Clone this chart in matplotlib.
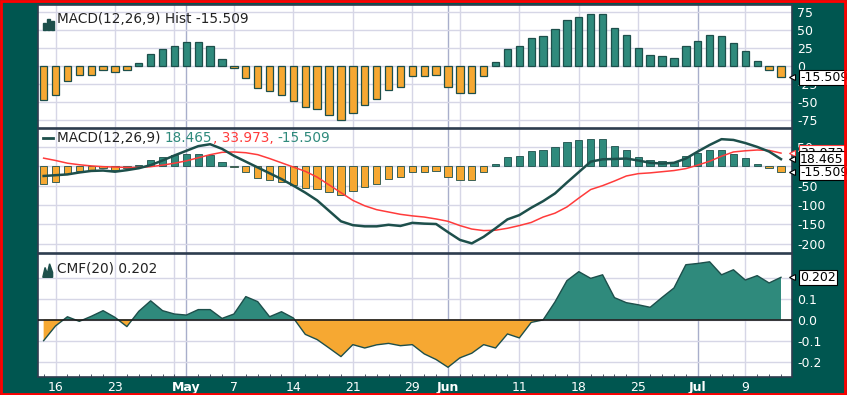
import numpy as np
import matplotlib
matplotlib.use("Agg")
import matplotlib.pyplot as plt
from matplotlib.patches import Rectangle

plt.rcParams['axes.unicode_minus'] = False
plt.rcParams['font.family'] = 'DejaVu Sans'

# trading days Apr 13 .. Jul 12 (index 0..62)
hist = [-46.7, -39.8, -20.6, -12.4, -12.4, -5.5, -8.7, -5.5, 3.7, 16.0,
        23.4, 27.9, 32.5, 32.5, 27.9, 10.0, -2.3, -16.0, -29.8, -34.3,
        -39.8, -48.0, -55.9, -59.0, -67.3, -74.2, -64.1, -53.6, -45.3, -33.0,
        -28.4, -14.2, -14.2, -12.4, -28.4, -36.6, -36.6, -14.2, 5.0, 23.4,
        27.5, 38.9, 41.2, 50.8, 63.2, 66.9, 71.4, 71.4, 52.6, 42.6,
        25.1, 15.1, 13.7, 11.4, 27.5, 34.3, 43.0, 41.2, 31.2, 20.6,
        6.9, -5.5, -15.509]

macd = [-25, -23, -21, -16, -12, -11, -14, -10, -5, 3,
        15, 28, 40, 52, 57, 45, 27, 12, -3, -18,
        -33, -50, -68, -88, -115, -142, -152, -155, -155, -151,
        -154, -146, -148, -149, -170, -190, -199, -182, -160, -137,
        -126, -107, -90, -70, -42, -15, 12, 18, 19, 20,
        15, 9, 7, 9, 20, 38, 55, 70, 68, 60,
        50, 38, 18.465]

signal = [21, 15, 8, 4, 1, -1, -2, -3, -3, -1,
          3, 8, 14, 22, 30, 36, 37, 35, 30, 20,
          9, -2, -13, -28, -48, -68, -88, -102, -112, -118,
          -124, -128, -131, -136, -142, -153, -162, -166, -165, -160,
          -153, -145, -131, -121, -105, -82, -60, -50, -38, -25,
          -19, -17, -14, -11, -6, 3, 13, 26, 37, 40,
          42, 41, 33.973]

cmf = [-0.10, -0.03, 0.014, -0.008, 0.016, 0.043, 0.011, -0.033, 0.04, 0.09,
       0.043, 0.027, 0.022, 0.048, 0.048, 0.006, 0.027, 0.11, 0.086, 0.014,
       0.038, 0.008, -0.07, -0.095, -0.135, -0.176, -0.119, -0.135, -0.12, -0.113,
       -0.124, -0.119, -0.163, -0.19, -0.227, -0.182, -0.16, -0.119, -0.135, -0.068,
       -0.087, -0.013, -0.001, 0.085, 0.186, 0.229, 0.197, 0.214, 0.105, 0.081,
       0.071, 0.059, 0.106, 0.151, 0.262, 0.268, 0.276, 0.214, 0.238, 0.189,
       0.21, 0.175, 0.202]

tick_pos = [1, 6, 12, 16, 21, 26, 31, 34, 40, 45, 50, 55, 59]
tick_lab = ['16', '23', 'May', '7', '14', '21', '29', 'Jun', '11', '18', '25', 'Jul', '9']
week_lines = [1, 6, 11, 16, 21, 26, 31, 35, 40, 45, 50, 59]
month_lines = [12, 34, 55]

BG = '#005650'
TEAL = '#2f8a7c'
DARK = '#1d4f4b'
ORANGE = '#f6a832'
RED = '#ff3b3b'
GRID = '#d6d6e6'
MGRID = '#a8aecb'
SPINE = '#2f3d4f'
FS = 9.8

x = np.arange(len(hist))
hist = np.array(hist)
cmf = np.array(cmf)

fig = plt.figure(figsize=(8.47, 3.95), dpi=100, facecolor=BG)
L, W = 0.0452, 0.8895
ax1 = fig.add_axes([L, 0.6767, W, 0.3106])
ax2 = fig.add_axes([L, 0.3603, W, 0.3119])
ax3 = fig.add_axes([L, 0.0468, W, 0.3101])


def style(ax, ylim, yt, ylab):
    ax.set_facecolor('white')
    ax.set_xlim(-0.45, 62.9)
    ax.set_ylim(*ylim)
    for v in week_lines:
        ax.axvline(v, color=GRID, lw=1, zorder=0)
    for v in month_lines:
        ax.axvline(v, color=MGRID, lw=1, zorder=0)
    for v in yt:
        ax.axhline(v, color=GRID, lw=1, zorder=0)
    ax.yaxis.tick_right()
    ax.set_yticks(yt)
    ax.set_yticklabels(ylab)
    ax.tick_params(axis='y', length=0, pad=4, labelcolor='white', labelsize=9)
    ax.set_xticks(tick_pos)
    ax.set_xticks(x, minor=True)
    ax.tick_params(axis='x', which='both', length=0, labelbottom=False)
    for s in ax.spines.values():
        s.set_color(SPINE)
        s.set_linewidth(1.2)


def tag(ax, y, txt, ec='black', fc='white'):
    ax.annotate(txt, xy=(1.0, y), xycoords=('axes fraction', 'data'),
                xytext=(6, 0), textcoords='offset points', va='center', ha='left',
                fontsize=9, color='black', annotation_clip=False, zorder=6,
                bbox=dict(boxstyle='square,pad=0.1', fc=fc, ec=ec, lw=0.8))
    ax.plot([1.0], [y], marker='<', ms=5, mfc='white', mec=ec, mew=0.8,
            transform=ax.get_yaxis_transform(), clip_on=False, zorder=5)


# panel 1: histogram
style(ax1, (-85, 84), [-75, -50, -25, 0, 25, 50, 75],
      ['-75', '-50', '-25', '0', '25', '50', '75'])
cols = [TEAL if v >= 0 else ORANGE for v in hist]
ax1.bar(x, hist, width=0.62, color=cols, edgecolor=DARK, linewidth=0.9, zorder=2)
ax1.text(0.025, 0.94, 'MACD(12,26,9) Hist -15.509', transform=ax1.transAxes,
         fontsize=FS, va='top', ha='left', color='#222222')
for k, hh in enumerate([0.45, 0.7, 0.55]):
    ax1.add_patch(Rectangle((0.006 + k * 0.0055, 0.8), 0.0038, hh * 0.12,
                            transform=ax1.transAxes, color=DARK, clip_on=False))
tag(ax1, hist[-1], '-15.509')

# panel 2: MACD lines with histogram
style(ax2, (-223, 95), [-200, -150, -100, -50, 0, 50],
      ['-200', '-150', '-100', '-50', '', '50'])
ax2.bar(x, hist, width=0.62, color=cols, edgecolor=DARK, linewidth=0.6, zorder=2)
ax2.plot(x, signal, color=RED, lw=1.1, zorder=3)
ax2.plot(x, macd, color=DARK, lw=1.8, zorder=4)
ax2.plot([0.006, 0.019], [0.93, 0.93], transform=ax2.transAxes, color=DARK, lw=2)
fig.canvas.draw()
r = fig.canvas.get_renderer()
xpos = 0.025
for txt, c in [('MACD(12,26,9) ', '#222222'), ('18.465', TEAL), (', 33.973, ', RED), ('-15.509', TEAL)]:
    t = ax2.text(xpos, 0.93, txt, transform=ax2.transAxes, fontsize=FS,
                 va='center', ha='left', color=c, zorder=6)
    bb = t.get_window_extent(renderer=r)
    xpos += bb.width / ax2.get_window_extent(renderer=r).width
tag(ax2, signal[-1], '33.973', ec=RED)
tag(ax2, macd[-1], '18.465')
tag(ax2, hist[-1], '-15.509')

# panel 3: CMF
style(ax3, (-0.271, 0.313), [-0.2, -0.1, 0.0, 0.1, 0.2],
      ['-0.2', '-0.1', '0.0', '0.1', ''])
ax3.fill_between(x, cmf, 0, where=cmf >= 0, interpolate=True, color=TEAL, lw=0, zorder=2)
ax3.fill_between(x, cmf, 0, where=cmf <= 0, interpolate=True, color=ORANGE, lw=0, zorder=2)
ax3.plot(x, cmf, color=DARK, lw=1.0, zorder=3)
ax3.axhline(0, color='#1a1a1a', lw=1.2, zorder=3)
ax3.text(0.025, 0.94, 'CMF(20) 0.202', transform=ax3.transAxes,
         fontsize=FS, va='top', ha='left', color='#222222')
ax3.fill([0.006, 0.009, 0.012, 0.015, 0.019, 0.019, 0.006],
         [0.81, 0.89, 0.84, 0.92, 0.85, 0.81, 0.81],
         transform=ax3.transAxes, color=DARK)
tag(ax3, cmf[-1], '0.202')
ax3.set_xticklabels(tick_lab)
ax3.tick_params(axis='x', which='major', labelbottom=True, labelcolor='white',
                labelsize=9, pad=3)
ax3.tick_params(axis='x', which='minor', bottom=True, length=2, direction='in', color=SPINE)
for lbl in ax3.get_xticklabels():
    if lbl.get_text() in ('May', 'Jun', 'Jul'):
        lbl.set_fontweight('bold')

fig.add_artist(Rectangle((0.001, 0.002), 0.997, 0.995, transform=fig.transFigure,
                         fill=False, ec='red', lw=2))

fig.savefig('out.png', dpi=100, facecolor=BG)
